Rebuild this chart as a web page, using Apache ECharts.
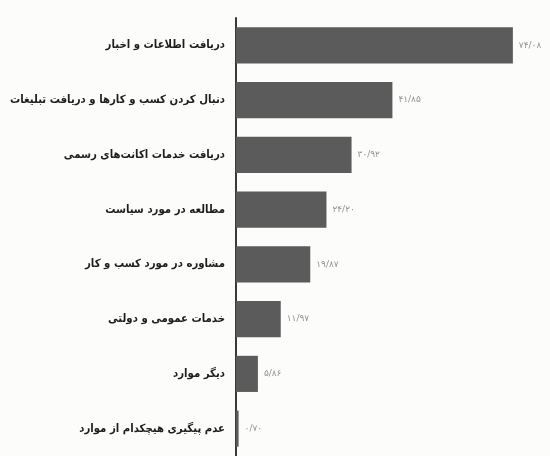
<!DOCTYPE html>
<html>
<head>
<meta charset="utf-8">
<script src="https://cdn.jsdelivr.net/npm/echarts@6/dist/echarts.min.js"></script>
<style>
  html, body { margin: 0; padding: 0; background: #fcfcfb; }
  #chart { width: 550px; height: 456px; }
</style>
</head>
<body>
<div id="chart"></div>
<script>
// Activities followed on social channels (percent of respondents)
const categories = [
  'دریافت اطلاعات و اخبار',
  'دنبال کردن کسب و کارها و دریافت تبلیغات',
  'دریافت خدمات اکانت‌های رسمی',
  'مطالعه در مورد سیاست',
  'مشاوره در مورد کسب و کار',
  'خدمات عمومی و دولتی',
  'دیگر موارد',
  'عدم پیگیری هیچکدام از موارد'
];
const values = [74.08, 41.85, 30.92, 24.20, 19.87, 11.97, 5.86, 0.70];

// Persian digits with "/" as the decimal separator
const faDigits = '۰۱۲۳۴۵۶۷۸۹';
function toFa(v) {
  return v.toFixed(2).replace('.', '/').replace(/[0-9]/g, d => faDigits[d]);
}

const chart = echarts.init(document.getElementById('chart'));
chart.setOption({
  backgroundColor: '#fcfcfb',
  animation: false,
  grid: {
    left: 236, right: 15, top: 18, bottom: 0,
    containLabel: false,
    outerBoundsMode: 'none'
  },
  xAxis: {
    type: 'value',
    min: 0,
    max: 80,
    show: false
  },
  yAxis: {
    type: 'category',
    data: categories,
    inverse: true,
    axisLine: { show: true, lineStyle: { color: '#3a3a3a', width: 2 } },
    axisTick: { show: false },
    axisLabel: {
      margin: 11,
      color: '#1e1e1e',
      fontFamily: '"DejaVu Sans Condensed", "DejaVu Sans"',
      fontWeight: 'bold',
      fontSize: 11.3
    }
  },
  series: [{
    type: 'bar',
    data: values,
    barWidth: '66%',
    itemStyle: { color: '#5b5b5b' },
    label: {
      show: true,
      position: 'right',
      distance: 6,
      color: '#939393',
      fontFamily: 'DejaVu Sans',
      fontSize: 9,
      formatter: p => toFa(p.value)
    }
  }]
});
</script>
</body>
</html>
